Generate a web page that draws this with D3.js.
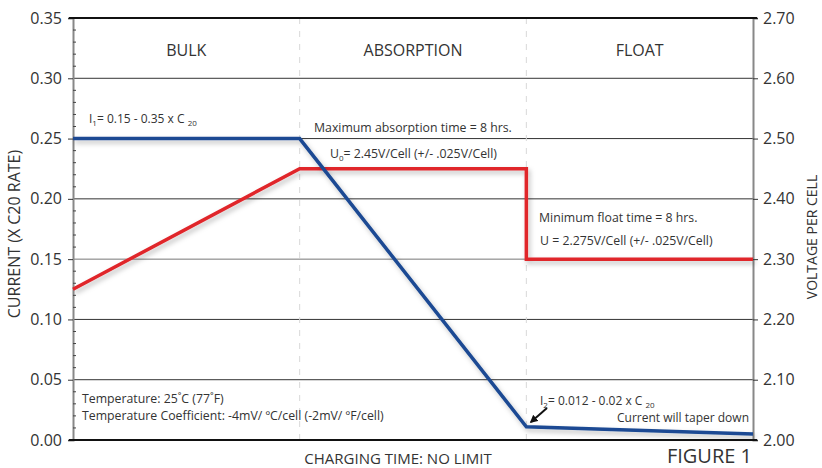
<!DOCTYPE html>
<html>
<head>
<meta charset="utf-8">
<script src="https://cdn.jsdelivr.net/npm/d3@7"></script>
<style>
  body { margin: 0; background: #fff; }
  text { font-family: "Open Sans", sans-serif; fill: #333; }
</style>
</head>
<body>
<div id="chart"></div>
<script>
// phases of the charge cycle (x in phase units)
const phases = ["BULK", "ABSORPTION", "FLOAT"];
const phaseBounds = [1, 2];

// current curve (left axis)
const currentTime = [0, 1, 2, 3];
const currentValues = [0.25, 0.25, 0.011, 0.005];

// voltage curve (right axis)
const voltageTime = [0, 1, 2, 2, 3];
const voltageValues = [2.25, 2.45, 2.45, 2.30, 2.30];

const currentTicks = [0, 0.05, 0.10, 0.15, 0.20, 0.25, 0.30, 0.35];
const voltageTicks = [2.00, 2.10, 2.20, 2.30, 2.40, 2.50, 2.60, 2.70];

const width = 822, height = 468;
const plotL = 73, plotR = 753, plotT = 18, plotB = 440;

const svg = d3.select("#chart").append("svg")
  .attr("width", width)
  .attr("height", height);

const defs = svg.append("defs");
const shadow = defs.append("filter").attr("id", "shadow")
  .attr("x", "-10%").attr("y", "-10%").attr("width", "130%").attr("height", "130%");
shadow.append("feDropShadow")
  .attr("dx", 2).attr("dy", 3).attr("stdDeviation", 2.5)
  .attr("flood-color", "#000").attr("flood-opacity", 0.25);

defs.append("marker").attr("id", "arrow")
  .attr("viewBox", "0 0 10 10").attr("refX", 8).attr("refY", 5)
  .attr("markerWidth", 4).attr("markerHeight", 4).attr("orient", "auto")
  .append("path").attr("d", "M0,0L10,5L0,10z").attr("fill", "#111");

const x = d3.scaleLinear().domain([0, 3]).range([plotL, plotR]);
const yI = d3.scaleLinear().domain([0, 0.35]).range([plotB, plotT]);
const yV = d3.scaleLinear().domain([2.0, 2.7]).range([plotB, plotT]);

// horizontal grid
svg.append("g").selectAll("line")
  .data(currentTicks.slice(1, -1))
  .enter().append("line")
  .attr("x1", plotL).attr("x2", plotR)
  .attr("y1", d => yI(d)).attr("y2", d => yI(d))
  .attr("stroke", (d, i) => i == 2 ? "#777" : "#333")
  .attr("stroke-width", 1);

// phase dividers
svg.append("g").selectAll("line")
  .data(phaseBounds)
  .enter().append("line")
  .attr("x1", d => x(d)).attr("x2", d => x(d))
  .attr("y1", plotT).attr("y2", plotB)
  .attr("stroke", "#d8d8d8")
  .attr("stroke-dasharray", "6,7");

// left axis
const leftAxis = svg.append("g")
  .attr("transform", `translate(${plotL},0)`)
  .call(d3.axisLeft(yI).tickValues(currentTicks).tickFormat(d3.format(".2f")).tickSize(5).tickPadding(6));
leftAxis.select(".domain").attr("stroke", "#888").attr("stroke-width", 2);
leftAxis.selectAll(".tick line").attr("stroke", "#333");
leftAxis.selectAll("text").style("font-size", "16px").attr("fill", "#333");

// minor ticks
svg.append("g").selectAll("line")
  .data(d3.range(0, 36).filter(d => d % 5 != 0).map(d => d / 100))
  .enter().append("line")
  .attr("x1", plotL).attr("x2", plotL + 3)
  .attr("y1", d => yI(d)).attr("y2", d => yI(d))
  .attr("stroke", "#444");

// right axis
const rightAxis = svg.append("g")
  .attr("transform", `translate(${plotR},0)`)
  .call(d3.axisRight(yV).tickValues(voltageTicks).tickFormat(d3.format(".2f")).tickSize(5).tickPadding(5));
rightAxis.select(".domain").attr("stroke", "#888").attr("stroke-width", 2);
rightAxis.selectAll(".tick line").attr("stroke", "#333");
rightAxis.selectAll("text").style("font-size", "16px").attr("fill", "#333");

// top & bottom frame lines
svg.append("g").selectAll("line")
  .data([0, 0.35])
  .enter().append("line")
  .attr("x1", plotL - 4).attr("x2", plotR + 4)
  .attr("y1", d => yI(d)).attr("y2", d => yI(d))
  .attr("stroke", "#111").attr("stroke-width", 2);

// phase titles
svg.append("g").selectAll("text")
  .data(phases)
  .enter().append("text")
  .attr("x", (d, i) => x(i + 0.5))
  .attr("y", 56)
  .attr("text-anchor", "middle")
  .style("font-size", "16px")
  .text(d => d);

// curves
const line = (xs, ys, yScale) => d3.line()(xs.map((t, i) => [x(t), yScale(ys[i])]));

svg.append("path")
  .attr("d", line(voltageTime, voltageValues, yV))
  .attr("fill", "none")
  .attr("stroke", "#e0252b")
  .attr("stroke-width", 3.5)
  .attr("filter", "url(#shadow)");

svg.append("path")
  .attr("d", line(currentTime, currentValues, yI))
  .attr("fill", "none")
  .attr("stroke", "#1b4a93")
  .attr("stroke-width", 3.5)
  .attr("filter", "url(#shadow)");

// annotations ({t} parts are subscripts)
function note(xp, yp, parts, size, anchor) {
  const t = svg.append("text")
    .attr("x", xp).attr("y", yp)
    .attr("text-anchor", anchor || "start")
    .style("font-size", size + "px");
  parts.forEach(p => {
    if (typeof p === "string") {
      t.append("tspan").text(p);
    } else {
      t.append("tspan")
        .attr("baseline-shift", "-3")
        .style("font-size", "8px")
        .text(p.t);
    }
  });
  return t;
}

note(89, 123, ["I", {t: "1"}, "= 0.15 - 0.35 x C ", {t: "20"}], 12);
note(314, 132, ["Maximum absorption time = 8 hrs."], 12.3);
note(330, 158, ["U", {t: "0"}, "= 2.45V/Cell (+/- .025V/Cell)"], 12.3);
note(539, 222, ["Minimum float time = 8 hrs."], 12.3);
note(540, 245, ["U = 2.275V/Cell (+/- .025V/Cell)"], 12.3);
note(82, 403, ["Temperature: 25\u02daC (77\u02daF)"], 12.3);
note(82, 420, ["Temperature Coefficient: -4mV/ \u00baC/cell (-2mV/  \u00baF/cell)"], 12.3);
note(540, 405, ["I", {t: "2"}, "= 0.012 - 0.02 x C ", {t: "20"}], 12);
note(749, 422, ["Current will taper down"], 12, "end");

svg.append("line")
  .attr("x1", 547).attr("y1", 408)
  .attr("x2", 531).attr("y2", 422)
  .attr("stroke", "#111").attr("stroke-width", 2)
  .attr("marker-end", "url(#arrow)");

// axis titles
svg.append("text")
  .attr("transform", `translate(20,234) rotate(-90)`)
  .attr("text-anchor", "middle")
  .style("font-size", "16px")
  .text("CURRENT (X C20 RATE)");

svg.append("text")
  .attr("transform", `translate(817,237) rotate(-90)`)
  .attr("text-anchor", "middle")
  .style("font-size", "14px")
  .text("VOLTAGE PER CELL");

svg.append("text")
  .attr("x", 398).attr("y", 464)
  .attr("text-anchor", "middle")
  .style("font-size", "15px")
  .text("CHARGING TIME: NO LIMIT");

svg.append("text")
  .attr("x", 752).attr("y", 463)
  .attr("text-anchor", "end")
  .style("font-size", "20px")
  .text("FIGURE 1");
</script>
</body>
</html>
